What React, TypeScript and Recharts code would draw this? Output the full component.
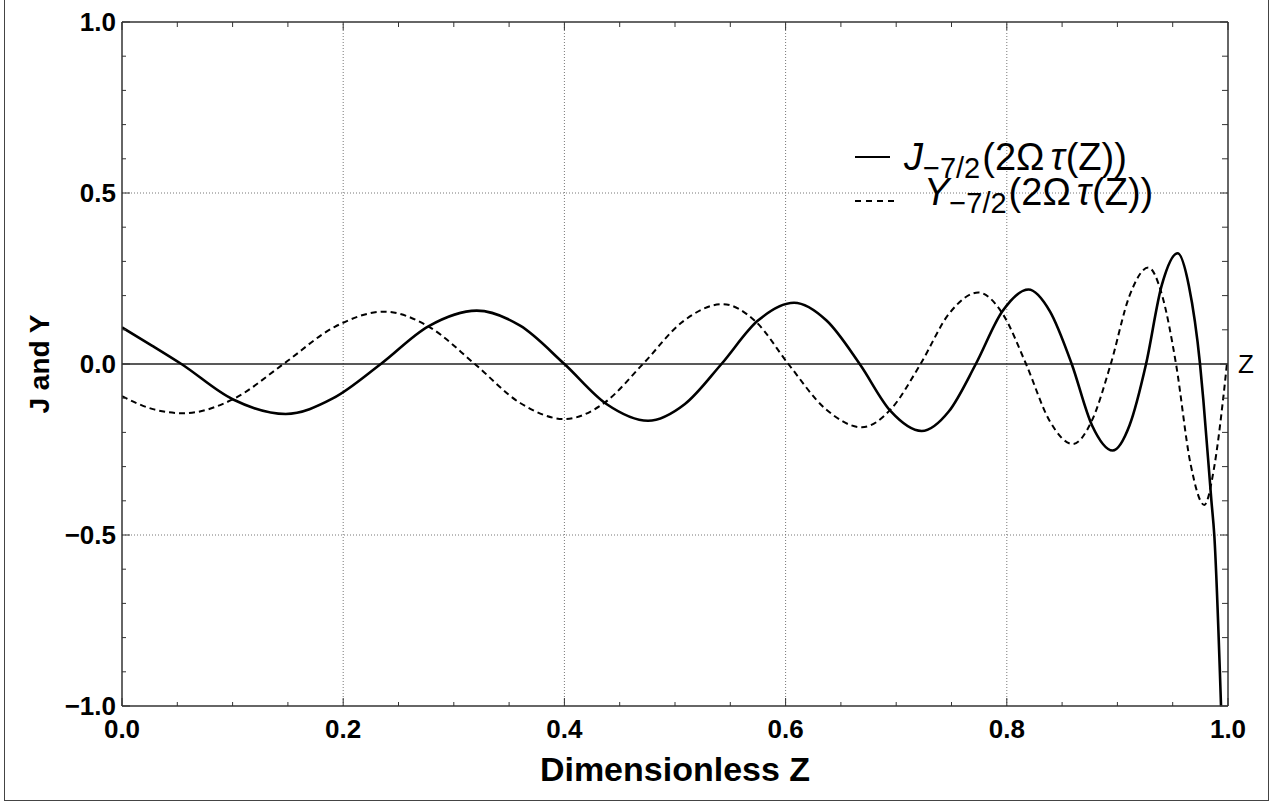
import React from 'react';
import { LineChart, Line, XAxis, YAxis, ReferenceLine, Legend } from 'recharts';

// ---- data ----
const jZ = [0, 0.027, 0.0537, 0.1, 0.148, 0.191, 0.234, 0.277, 0.3207, 0.36, 0.4, 0.438, 0.4756, 0.509, 0.542, 0.575, 0.6076, 0.637, 0.667, 0.695, 0.723, 0.7475, 0.772, 0.796, 0.8195, 0.839, 0.8587, 0.877, 0.8957, 0.911, 0.9259, 0.94, 0.9545, 0.9646, 0.9747, 0.9777, 0.985, 0.9876, 0.9937];
const jV = [0.107, 0.054, 0, -0.103, -0.146, -0.1, 0, 0.11, 0.156, 0.112, 0, -0.117, -0.166, -0.117, 0, 0.127, 0.179, 0.127, 0, -0.138, -0.196, -0.139, 0, 0.154, 0.218, 0.154, 0, -0.179, -0.253, -0.179, 0, 0.229, 0.324, 0.229, 0, -0.105, -0.4, -0.5, -1.0];

const yZ = [0, 0.028, 0.0557, 0.101, 0.146, 0.192, 0.237, 0.278, 0.319, 0.36, 0.4, 0.436, 0.471, 0.507, 0.543, 0.573, 0.6025, 0.636, 0.669, 0.6955, 0.722, 0.748, 0.7743, 0.796, 0.8174, 0.8385, 0.8596, 0.877, 0.894, 0.911, 0.928, 0.9405, 0.953, 0.966, 0.9786, 0.9876, 0.9955, 0.999];
const yV = [-0.094, -0.132, -0.144, -0.102, 0, 0.108, 0.153, 0.108, 0, -0.114, -0.161, -0.114, 0, 0.124, 0.175, 0.124, 0, -0.131, -0.185, -0.131, 0, 0.148, 0.209, 0.148, 0, -0.165, -0.234, -0.165, 0, 0.2, 0.282, 0.2, 0, -0.29, -0.412, -0.3, -0.105, 0];

const xTicks = [0, 0.05, 0.1, 0.15, 0.2, 0.25, 0.3, 0.35, 0.4, 0.45, 0.5, 0.55, 0.6, 0.65, 0.7, 0.75, 0.8, 0.85, 0.9, 0.95, 1.0];
const xMajor = [0, 0.2, 0.4, 0.6, 0.8, 1.0];
const xTickLabels = ['0.0', '0.2', '0.4', '0.6', '0.8', '1.0'];
const yTicks = [-1, -0.9, -0.8, -0.7, -0.6, -0.5, -0.4, -0.3, -0.2, -0.1, 0, 0.1, 0.2, 0.3, 0.4, 0.5, 0.6, 0.7, 0.8, 0.9, 1.0];
const yMajor = [-1, -0.5, 0, 0.5, 1];
const yTickLabels = ['\u22121.0', '\u22120.5', '0.0', '0.5', '1.0'];
const xGrid = [0.2, 0.4, 0.6, 0.8];
const yGrid = [-0.5, 0.5];
const xTitle = 'Dimensionless Z';
const yTitle = 'J and Y';
const zeroLabel = 'Z';
const seriesNames = ['J', 'Y'];
const subscriptText = '\u22127/2';

const jData = jZ.map((z, i) => ({ z, v: jV[i] }));
const yData = yZ.map((z, i) => ({ z, v: yV[i] }));

const FONT = '"Liberation Sans", Arial, Helvetica, sans-serif';
const AXIS = '#333';

const majorIndex = (list: number[], v: number) => list.findIndex((m) => Math.abs(m - v) < 1e-6);

const BottomTick = (p: any) => {
  const idx = majorIndex(xMajor, p.payload.value);
  const major = idx >= 0;
  return (
    <g>
      <line x1={p.x} x2={p.x} y1={p.y} y2={p.y - (major ? 8 : 4)} stroke={AXIS} strokeWidth={1} />
      {major && (
        <text x={p.x} y={p.y + 32} textAnchor="middle" fontFamily={FONT} fontWeight="bold" fontSize={26} fill="#000">
          {xTickLabels[idx]}
        </text>
      )}
    </g>
  );
};

const TopTick = (p: any) => {
  const major = majorIndex(xMajor, p.payload.value) >= 0;
  return <line x1={p.x} x2={p.x} y1={p.y} y2={p.y + (major ? 8 : 5)} stroke={AXIS} strokeWidth={1} />;
};

const LeftTick = (p: any) => {
  const idx = majorIndex(yMajor, p.payload.value);
  const major = idx >= 0;
  return (
    <g>
      <line x1={p.x} x2={p.x + (major ? 8 : 4)} y1={p.y} y2={p.y} stroke={AXIS} strokeWidth={1} />
      {major && (
        <text x={p.x - 6} y={p.y + 9} textAnchor="end" fontFamily={FONT} fontWeight="bold" fontSize={26} fill="#000">
          {yTickLabels[idx]}
        </text>
      )}
    </g>
  );
};

const RightTick = (p: any) => {
  const major = majorIndex(yMajor, p.payload.value) >= 0;
  return <line x1={p.x} x2={p.x - (major ? 8 : 6)} y1={p.y} y2={p.y} stroke={AXIS} strokeWidth={1} />;
};

const LegendContent = () => {
  const rows = [
    { name: seriesNames[0], lx1: 855, lx2: 890, ly: 157, dash: undefined as string | undefined, tx: 904, ty: 170 },
    { name: seriesNames[1], lx1: 855, lx2: 896, ly: 201, dash: '6 5', tx: 924, ty: 205 },
  ];
  return (
    <svg width={1281} height={260} style={{ position: 'absolute', left: 0, top: 0, overflow: 'visible', pointerEvents: 'none' }}>
      {rows.map((r) => (
        <g key={r.name}>
          <line x1={r.lx1} x2={r.lx2} y1={r.ly} y2={r.ly} stroke="#000" strokeWidth={1.8} strokeDasharray={r.dash} />
          <text x={r.tx} y={r.ty} fontFamily={FONT} fontSize={38} fill="#000">
            <tspan fontStyle="italic">{r.name}</tspan>
            <tspan fontSize={29} dy={8}>{subscriptText}</tspan>
            <tspan dy={-8} dx={2}>(2Ω</tspan>
            <tspan fontStyle="italic" dx={6}>τ</tspan>
            <tspan dx={1}>(Z))</tspan>
          </text>
        </g>
      ))}
    </svg>
  );
};

export default function App() {
  return (
    <div style={{ position: 'absolute', left: 0, top: 0, width: 1281, height: 803, background: '#fff' }}>
      <div
        style={{
          position: 'absolute',
          left: 4,
          top: -10,
          width: 1265,
          height: 811,
          border: '1px solid #444',
          boxSizing: 'border-box',
        }}
      />
      <LineChart width={1281} height={803} margin={{ top: 12, right: 33, bottom: 57, left: 62 }}>
        <XAxis
          xAxisId="b"
          dataKey="z"
          type="number"
          domain={[0, 1]}
          ticks={xTicks}
          interval={0}
          height={40}
          tickSize={0}
          tickMargin={0}
          tick={<BottomTick />}
          axisLine={{ stroke: AXIS, strokeWidth: 1.5 }}
          allowDataOverflow
          label={{
            content: (p: any) => (
              <text
                x={p.viewBox.x + p.viewBox.width / 2}
                y={781}
                textAnchor="middle"
                fontFamily={FONT}
                fontWeight="bold"
                fontSize={34}
                fill="#000"
              >
                {xTitle}
              </text>
            ),
          }}
        />
        <XAxis
          xAxisId="t"
          orientation="top"
          dataKey="z"
          type="number"
          domain={[0, 1]}
          ticks={xTicks}
          interval={0}
          height={10}
          tickSize={0}
          tickMargin={0}
          tick={<TopTick />}
          axisLine={{ stroke: AXIS, strokeWidth: 1.5 }}
          allowDataOverflow
        />
        <YAxis
          yAxisId="l"
          type="number"
          domain={[-1, 1]}
          ticks={yTicks}
          interval={0}
          width={60}
          tickSize={0}
          tickMargin={0}
          tick={<LeftTick />}
          axisLine={{ stroke: AXIS, strokeWidth: 1.5 }}
          allowDataOverflow
          label={{
            content: (p: any) => (
              <text
                transform={`translate(49, ${p.viewBox.y + p.viewBox.height / 2}) rotate(-90)`}
                textAnchor="middle"
                fontFamily={FONT}
                fontWeight="bold"
                fontSize={28}
                fill="#000"
              >
                {yTitle}
              </text>
            ),
          }}
        />
        <YAxis
          yAxisId="r"
          orientation="right"
          type="number"
          domain={[-1, 1]}
          ticks={yTicks}
          interval={0}
          width={20}
          tickSize={0}
          tickMargin={0}
          tick={<RightTick />}
          axisLine={{ stroke: AXIS, strokeWidth: 1.5 }}
          allowDataOverflow
        />
        {xGrid.map((x) => (
          <ReferenceLine key={'gx' + x} xAxisId="b" yAxisId="l" x={x} stroke="#777" strokeWidth={1} strokeDasharray="1 2" />
        ))}
        {yGrid.map((y) => (
          <ReferenceLine key={'gy' + y} xAxisId="b" yAxisId="l" y={y} stroke="#777" strokeWidth={1} strokeDasharray="1 2" />
        ))}
        <ReferenceLine
          xAxisId="b"
          yAxisId="l"
          y={0}
          stroke="#222"
          strokeWidth={1.3}
          label={{ value: zeroLabel, position: 'right', offset: 10, fontSize: 26, fill: '#000', fontFamily: FONT }}
        />
        <Line
          xAxisId="b"
          yAxisId="l"
          data={yData}
          dataKey="v"
          name={seriesNames[1]}
          type="monotone"
          stroke="#000"
          strokeWidth={2}
          strokeDasharray="6 4"
          dot={false}
          activeDot={false}
          isAnimationActive={false}
        />
        <Line
          xAxisId="b"
          yAxisId="l"
          data={jData}
          dataKey="v"
          name={seriesNames[0]}
          type="monotone"
          stroke="#000"
          strokeWidth={2.6}
          dot={false}
          activeDot={false}
          isAnimationActive={false}
        />
        <Legend
          layout="vertical"
          align="center"
          verticalAlign="middle"
          wrapperStyle={{ position: 'absolute', left: 0, top: 0, width: 1281, height: 1, margin: 0, padding: 0 }}
          content={<LegendContent />}
        />
      </LineChart>
    </div>
  );
}
